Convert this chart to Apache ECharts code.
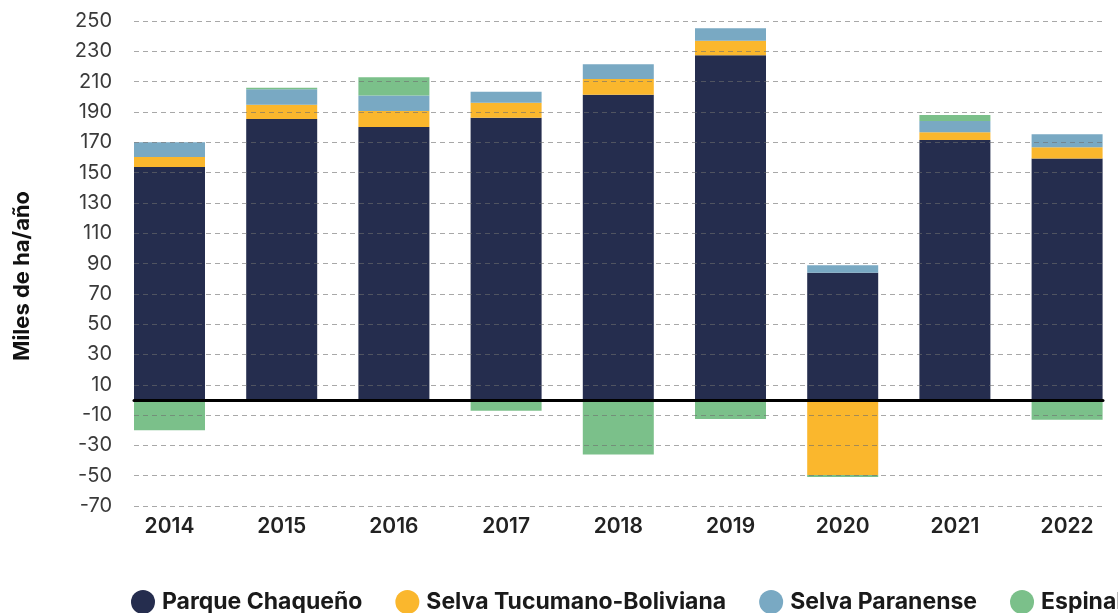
<!DOCTYPE html>
<html>
<head>
<meta charset="utf-8">
<script src="https://cdn.jsdelivr.net/npm/echarts@6/dist/echarts.min.js"></script>
<style>
html,body{margin:0;padding:0;background:#fff;overflow:hidden;}
#chart{width:1124px;height:613px;}
</style>
</head>
<body>
<div id="chart"></div>
<script>
const years = ['2014','2015','2016','2017','2018','2019','2020','2021','2022'];
const parqueChaqueno = [153.7, 185.4, 180.1, 186.2, 201.4, 227.4, 83.9, 171.5, 159.2];
const selvaTucumano = [6.6, 9.4, 10.6, 9.8, 10.4, 9.5, -49.6, 5.1, 7.5];
const selvaParanense = [9.7, 10.2, 10.1, 7.4, 9.7, 8.3, 4.9, 7.4, 8.6];
const espinal = [-20.1, 1.0, 12.1, -7.2, -36.0, -12.6, -1.3, 4.0, -13.1];
const seriesNames = ['Parque Chaqueño','Selva Tucumano-Boliviana','Selva Paranense','Espinal'];
const yAxisTitle = 'Miles de ha/año';
const colors = ['#252D4E','#FAB72D','#79A9C3','#7BC08A'];
const yMin = -70, yMax = 250, yStep = 20;

const FONT = 'Inter, "Open Sans", sans-serif';
const chart = echarts.init(document.getElementById('chart'), null, {renderer:'canvas'});
const values = [parqueChaqueno, selvaTucumano, selvaParanense, espinal];

chart.setOption({
  animation:false,
  textStyle:{fontFamily:FONT},
  grid:[
    {left:134, width:969, top:21, height:485},
    {left:113.4, width:1009.8, top:21, height:485}
  ],
  legend:{
    data:seriesNames,
    icon:'circle',
    itemWidth:24, itemHeight:24,
    itemGap:33, padding:0,
    left:131, top:590, width:1400,
    textStyle:{fontFamily:FONT, fontSize:23, fontWeight:700, color:'#1a1a1a', padding:[0,0,0,2]}
  },
  graphic:[{
    type:'text', x:22, y:276, rotation:Math.PI/2,
    style:{text:yAxisTitle, align:'center', verticalAlign:'middle',
      font:'700 22px Inter, "Open Sans", sans-serif', fill:'#111'}
  }],
  xAxis:[
    {type:'category', gridIndex:0, data:years, z:6,
     axisLine:{show:true, onZero:true, lineStyle:{color:'#000', width:3}},
     axisTick:{show:false}, axisLabel:{show:false}, splitLine:{show:false}},
    {type:'category', gridIndex:1, data:years,
     axisLine:{show:false}, axisTick:{show:false}, splitLine:{show:false},
     axisLabel:{margin:10, fontFamily:FONT, fontSize:21, fontWeight:600, color:'#222'}}
  ],
  yAxis:[
    {type:'value', gridIndex:0, min:yMin, max:yMax, interval:yStep, z:5,
     axisLine:{show:false}, axisTick:{show:false},
     axisLabel:{margin:22, fontFamily:FONT, fontSize:20, color:'#3a3a3a'},
     splitLine:{show:true, lineStyle:{color:'rgba(110,110,110,0.6)', type:[5,4], width:1}}},
    {type:'value', gridIndex:1, min:yMin, max:yMax, interval:yStep, show:false, splitLine:{show:false}}
  ],
  series: seriesNames.map((n,i)=>({
    name:n, type:'bar', stack:'total', xAxisIndex:1, yAxisIndex:1,
    barWidth:71, data:values[i],
    itemStyle:{color:colors[i]}
  }))
});
</script>
</body>
</html>
